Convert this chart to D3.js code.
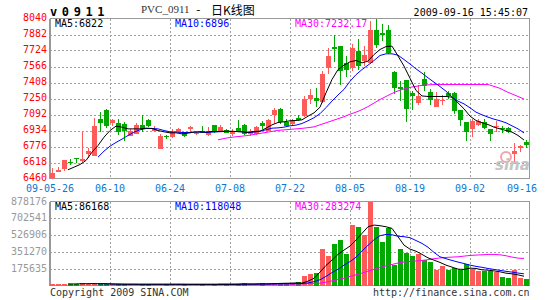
<!DOCTYPE html>
<html>
<head>
<meta charset="utf-8">
<script src="https://cdn.jsdelivr.net/npm/d3@7"></script>
<style>
body { margin: 0; background: #fff; }
text { font-family: "DejaVu Sans Mono", monospace; font-size: 10px; }
</style>
</head>
<body>
<div id="chart"></div>
<script>
// daily K data, PVC_0911, 09-05-26 .. 09-16
var opens = [6467,6527,6552,6622,6661,6628,6700,6687,7043,7141,
    7006,7013,7003,6881,6904,6993,7033,6927,6756,6881,
    6865,6918,6918,6944,6905,6934,6891,6990,6934,6941,
    6895,6954,6993,6895,6898,7006,6934,7085,7151,7016,
    7003,7059,7076,7247,7257,7217,7553,7757,7767,7602,
    7553,7717,7619,7602,7931,7898,7925,7513,7362,7428,
    7303,7204,7444,7313,7171,7224,7303,7306,7132,7016,
    6950,6990,7016,6944,6964,6957,6957,6704,6760,6819];
var highs = [6562,6572,6645,6648,6662,6918,6763,7056,7115,7145,
    7049,7049,7016,6947,7013,7092,7043,6983,6901,6891,
    6950,6955,6920,6983,6918,6983,6973,6993,6990,6947,
    6950,7033,6995,6944,6983,7023,7046,7161,7155,7049,
    7043,7092,7273,7345,7349,7520,7750,7875,7770,7668,
    7790,7833,7767,8020,8040,7987,7980,7520,7421,7430,
    7329,7385,7510,7346,7313,7286,7329,7310,7135,7020,
    7049,7049,7049,6947,7023,6983,6973,6809,6790,6842];
var lows = [6460,6522,6533,6595,6615,6625,6664,6680,6918,6960,
    6977,6885,6829,6875,6895,6918,6970,6924,6750,6849,
    6858,6915,6865,6918,6885,6905,6878,6908,6918,6908,
    6875,6918,6890,6878,6885,6944,6930,7000,7000,6967,
    6983,7030,7070,7191,7168,7210,7494,7612,7388,7464,
    7520,7527,7569,7595,7750,7816,7690,7296,7224,7020,
    7132,7181,7329,7181,7165,7181,7247,7099,6983,6829,
    6868,6983,6950,6829,6918,6914,6914,6621,6720,6763];
var closes = [6519,6545,6638,6620,6660,6648,6727,6983,7013,6983,
    7033,6918,6927,6934,6990,6951,6974,6944,6875,6865,
    6924,6950,6878,6964,6910,6914,6931,6927,6973,6914,
    6924,6924,6895,6927,6964,6977,7036,7141,7016,6977,
    7033,7036,7250,7280,7224,7494,7665,7740,7520,7536,
    7750,7569,7684,7931,7783,7875,7701,7355,7345,7151,
    7270,7270,7378,7237,7247,7240,7270,7122,7033,6924,
    7026,7026,6957,6901,6980,6944,6924,6730,6783,6786];
var volumes = [18000,18000,20000,14000,14000,26000,14000,27000,15000,15000,
    14000,13000,14000,13000,13000,12000,13000,14000,13000,12000,
    13000,12000,13000,12000,12000,13000,12000,13000,12000,13000,
    12000,13000,24000,13000,14000,24000,16000,27000,24000,24000,
    27000,38000,100000,122000,132000,384000,310000,436000,478000,331000,
    632000,611000,527000,878000,614000,457000,605000,213000,384000,342000,
    310000,331000,265000,247000,160000,205000,160000,178000,160000,223000,
    171000,153000,153000,153000,143000,90000,80000,160000,80000,66000];

// moving averages as drawn
var ma5 = [null,null,null,6546,6572,6598,6638,6720,6786,6868,
    6934,6977,6967,6950,6950,6950,6957,6954,6934,6921,
    6911,6911,6901,6908,6918,6921,6918,6924,6924,6927,
    6927,6924,6921,6914,6924,6927,6957,6990,7013,7020,
    7030,7033,7039,7076,7108,7164,7306,7438,7536,7579,
    7612,7625,7602,7619,7684,7734,7763,7767,7670,7570,
    7450,7330,7275,7270,7270,7270,7270,7263,7207,7148,
    7076,7033,7010,6993,6967,6950,6934,6918,6885,6840];
var ma10 = [null,null,null,null,null,null,null,null,6671,6730,
    6779,6816,6849,6885,6918,6941,6954,6954,6950,6934,
    6921,6918,6914,6914,6918,6918,6914,6918,6921,6924,
    6924,6924,6921,6914,6918,6927,6941,6957,6960,6967,
    6980,6987,7003,7030,7060,7100,7160,7225,7285,7340,
    7420,7485,7536,7579,7625,7675,7691,7691,7678,7635,
    7590,7543,7500,7454,7411,7368,7322,7263,7224,7197,
    7158,7115,7089,7066,7046,7030,7010,6980,6950,6910];
var ma30 = [null,null,null,null,null,null,null,null,null,null,
    null,null,null,null,null,null,null,null,null,null,
    null,null,null,null,null,null,null,null,6842,6855,
    6865,6872,6878,6885,6895,6905,6915,6925,6935,6940,
    6945,6950,6955,6962,6970,6990,7010,7030,7050,7070,
    7095,7115,7140,7170,7205,7240,7270,7300,7325,7345,
    7360,7370,7380,7385,7388,7388,7388,7388,7388,7388,
    7388,7388,7388,7388,7370,7350,7320,7295,7270,7245];
var volMa5 = [null,null,null,17000,16000,18000,19000,20000,19000,19000,
    17000,15000,14000,13000,13000,13000,13000,13000,13000,13000,
    13000,13000,13000,12000,12000,12000,12000,12000,12000,12000,
    12000,12000,15000,15000,15000,17000,17000,19000,21000,23000,
    24000,27000,25000,45000,75000,140000,210000,265000,325000,370000,
    412000,475000,545000,614000,632000,625000,614000,597000,510000,422000,
    380000,359000,325000,289000,265000,241000,213000,192000,171000,168000,
    181000,178000,164000,160000,153000,143000,129000,122000,111000,97000];
var volMa10 = [null,null,null,null,null,null,null,null,17000,17000,
    16000,15000,14000,14000,14000,13000,13000,13000,13000,13000,
    13000,13000,13000,13000,13000,13000,13000,13000,13000,13000,
    13000,13000,14000,14000,14000,15000,15000,16000,17000,18000,
    18000,19000,20000,27000,40000,60000,95000,135000,170000,213000,
    250000,295000,360000,420000,478000,520000,534000,530000,515000,510000,
    500000,470000,440000,400000,346000,300000,280000,262000,245000,230000,
    213000,200000,190000,178000,168000,158000,148000,140000,130000,122000];
var volMa30 = [null,null,null,null,null,null,null,null,null,null,
    null,null,null,null,null,null,null,null,null,null,
    null,null,null,null,null,null,null,null,14000,14000,
    14000,14000,14000,14000,14000,14000,14000,14000,15000,15000,
    15000,15000,16000,20000,22000,25000,35000,48000,62000,76000,
    95000,112000,130000,150000,168000,188000,205000,220000,235000,245000,
    252000,256000,262000,270000,280000,288000,293000,297000,300000,307000,
    314000,318000,321000,325000,325000,321000,311000,297000,286000,283000];

var xTickIdx = [0, 10, 20, 30, 40, 50, 60, 70, 80];
var xTickLabels = ["09-05-26", "06-10", "06-24", "07-08", "07-22", "08-05", "08-19", "09-02", "09-16"];
var priceTicks = [8040, 7882, 7724, 7566, 7408, 7250, 7092, 6934, 6776, 6618, 6460];
var volTicks = [878176, 702541, 526906, 351270, 175635];

var width = 545, height = 300,
    upColor = "#ff5a5a", downColor = "#00a800",
    gridColor = "#a0a0a0", frameColor = "#999999";

var svg = d3.select("#chart").append("svg")
    .attr("width", width)
    .attr("height", height);

var x = d3.scaleLinear().domain([0, 80]).range([50, 530]);
var y = d3.scaleLinear().domain([6460, 8040]).range([178.5, 18.5]);
var yv = d3.scaleLinear().domain([0, 878176]).range([285.5, 201.5]);

var idx = d3.range(closes.length);
var isUp = i => closes[i] >= opens[i];

// grids
let drawGrid = (g, yScale, ticks, top, bottom) => {
    g.selectAll("line.h")
        .data(ticks.filter(t => yScale(t) > top + 1 && yScale(t) < bottom - 1))
        .join("line")
        .attr("class", "h")
        .attr("x1", x(0)).attr("x2", x(80))
        .attr("y1", d => Math.round(yScale(d)) + 0.5)
        .attr("y2", d => Math.round(yScale(d)) + 0.5);
    g.selectAll("line.v")
        .data(xTickIdx.slice(1, -1))
        .join("line")
        .attr("class", "v")
        .attr("x1", d => x(d) + 0.5).attr("x2", d => x(d) + 0.5)
        .attr("y1", top).attr("y2", bottom);
};

var gridMain = svg.append("g")
    .attr("stroke", gridColor)
    .attr("stroke-dasharray", "2,2")
    .attr("shape-rendering", "crispEdges");
drawGrid(gridMain, y, priceTicks, y(8040), y(6460));

var gridVol = svg.append("g")
    .attr("stroke", gridColor)
    .attr("stroke-dasharray", "2,2")
    .attr("shape-rendering", "crispEdges");
drawGrid(gridVol, yv, volTicks.concat([0]), yv(878176), yv(0));

// frames
[[y(8040), y(6460)], [yv(878176), yv(0)]].forEach(r => {
    svg.append("rect")
        .attr("x", x(0) + 0.5)
        .attr("y", r[0])
        .attr("width", x(80) - x(0) - 1)
        .attr("height", r[1] - r[0])
        .attr("fill", "none")
        .attr("stroke", frameColor)
        .attr("shape-rendering", "crispEdges");
    // the left edge is drawn a bit heavier
    svg.append("line")
        .attr("x1", x(0) - 0.5).attr("x2", x(0) - 0.5)
        .attr("y1", r[0]).attr("y2", r[1] + 0.5)
        .attr("stroke", frameColor)
        .attr("shape-rendering", "crispEdges");
});

// candles
var candles = svg.append("g").attr("shape-rendering", "crispEdges");
candles.selectAll("line")
    .data(idx)
    .join("line")
    .attr("x1", i => x(i) + 2.5).attr("x2", i => x(i) + 2.5)
    .attr("y1", i => y(highs[i])).attr("y2", i => y(lows[i]))
    .attr("stroke", i => isUp(i) ? upColor : downColor);
candles.selectAll("rect")
    .data(idx)
    .join("rect")
    .attr("x", i => x(i))
    .attr("width", i => x(i + 1) - x(i) - 1)
    .attr("y", i => y(Math.max(opens[i], closes[i])))
    .attr("height", i => Math.max(1, Math.abs(y(opens[i]) - y(closes[i]))))
    .attr("fill", i => isUp(i) ? upColor : downColor);

// volume bars
svg.append("g").attr("shape-rendering", "crispEdges")
    .selectAll("rect")
    .data(idx)
    .join("rect")
    .attr("x", i => x(i))
    .attr("width", i => x(i + 1) - x(i) - 1)
    .attr("y", i => yv(volumes[i]))
    .attr("height", i => yv(0) - yv(volumes[i]))
    .attr("fill", i => isUp(i) ? upColor : downColor);

// moving average lines
let drawLine = (values, scale, color) => {
    var line = d3.line()
        .defined(d => d != null)
        .x((d, i) => x(i))
        .y(d => scale(d));
    svg.append("path")
        .datum(values)
        .attr("d", line)
        .attr("fill", "none")
        .attr("stroke", color)
        .attr("stroke-width", 1);
};
drawLine(ma30, y, "#ff00ff");
drawLine(ma10, y, "#0000ff");
drawLine(ma5, y, "#000000");
drawLine(volMa30, yv, "#ff00ff");
drawLine(volMa10, yv, "#0000ff");
drawLine(volMa5, yv, "#000000");

// axis labels
svg.append("g").attr("fill", "#ff0000").attr("text-anchor", "end")
    .selectAll("text")
    .data(priceTicks)
    .join("text")
    .attr("x", 47)
    .attr("y", d => y(d) + 2)
    .text(d => d);

svg.append("g").attr("fill", "#999999").attr("text-anchor", "end")
    .selectAll("text")
    .data(volTicks)
    .join("text")
    .attr("x", 47)
    .attr("y", d => yv(d) + 3)
    .text(d => d);

svg.append("g").attr("fill", "#0a78d2").attr("text-anchor", "middle")
    .selectAll("text")
    .data(xTickIdx)
    .join("text")
    .attr("x", (d, i) => i == xTickIdx.length - 1 ? x(d) - 8 : x(d))
    .attr("y", 191.5)
    .text((d, i) => xTickLabels[i]);

// legends
let legend = (yPos, items) => {
    svg.append("g").selectAll("text")
        .data(items)
        .join("text")
        .attr("x", (d, i) => x(i * 20) + 5)
        .attr("y", yPos)
        .attr("fill", d => d[1])
        .text(d => d[0]);
};
legend(27, [["MA5:6822", "#000"], ["MA10:6896", "#0000ff"], ["MA30:7232.17", "#ff00ff"]]);
legend(209.5, [["MA5:86168", "#000"], ["MA10:118048", "#0000ff"], ["MA30:283274", "#ff00ff"]]);

// title line
svg.append("text")
    .attr("x", 50).attr("y", 16)
    .style("font-size", "12px")
    .style("font-weight", "bold")
    .style("letter-spacing", "4.6px")
    .text("v0911");
svg.append("text")
    .attr("x", 141).attr("y", 12.5)
    .style("font-family", "'Liberation Serif', serif")
    .style("font-size", "11px")
    .attr("fill", "#333")
    .text("PVC_0911");
svg.append("text")
    .attr("x", 195).attr("y", 12.5)
    .style("font-family", "'Liberation Mono', monospace")
    .style("font-size", "11px")
    .attr("fill", "#000")
    .text("-");
svg.append("text")
    .attr("x", 211).attr("y", 15)
    .style("font-family", "'Noto Sans CJK SC', sans-serif")
    .style("font-size", "12px")
    .text("日K线图");
svg.append("text")
    .attr("x", 528).attr("y", 15.5)
    .attr("text-anchor", "end")
    .text("2009-09-16 15:45:07");

// footer
svg.append("text")
    .attr("x", 50).attr("y", 295.5)
    .attr("fill", "#333")
    .text("Copyright 2009 SINA.COM");
svg.append("text")
    .attr("x", 529.5).attr("y", 295.5)
    .attr("text-anchor", "end")
    .attr("fill", "#333")
    .text("http://finance.sina.com.cn");

// sina watermark
svg.append("circle")
    .attr("cx", 506).attr("cy", 157).attr("r", 5)
    .attr("fill", "none")
    .attr("stroke", "#f4a3ab")
    .attr("stroke-width", 2);
svg.append("text")
    .attr("x", 495).attr("y", 170)
    .style("font-family", "'DejaVu Sans', sans-serif")
    .style("font-size", "15px")
    .style("font-weight", "bold")
    .style("font-style", "italic")
    .attr("fill", "#c4c4c4")
    .text("sina");
</script>
</body>
</html>
